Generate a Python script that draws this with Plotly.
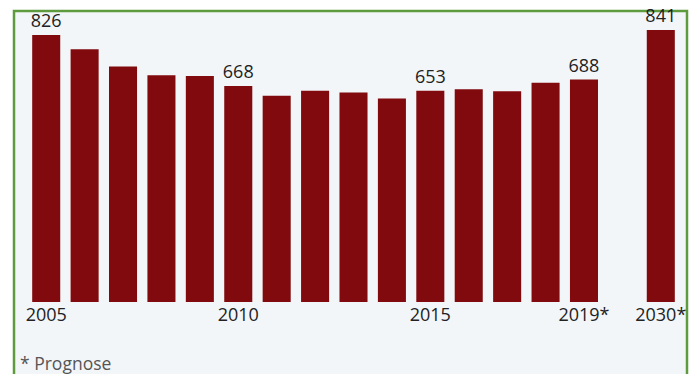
import plotly.graph_objects as go

categories = ["2005", "2006", "2007", "2008", "2009", "2010", "2011", "2012", "2013",
              "2014", "2015", "2016", "2017", "2018", "2019*", " ", "2030*"]
values = [826, 782, 728, 701, 699, 668, 638, 653, 648, 629, 653, 658, 652, 678, 688, None, 841]
shown_labels = ["2005", "2010", "2015", "2019*", "2030*"]
labelled_values = {"2005": 826, "2010": 668, "2015": 653, "2019*": 688, "2030*": 841}

W, H = 694, 374
ml, mr, mt, mb = 27, 14, 11, 72
pw, ph = W - ml - mr, H - mt - mb

def px_x(x):
    return (x - ml) / pw

def px_y(y):
    return (H - mb - y) / ph

texts = [str(labelled_values[c]) if c in labelled_values else "" for c in categories]
ticktext = [c if c in shown_labels else "" for c in categories]

fig = go.Figure()
fig.add_trace(go.Bar(
    x=categories, y=values,
    marker=dict(color="#800a0d", line=dict(width=0)),
    text=texts, textposition="outside", cliponaxis=False, constraintext="none",
    textfont=dict(size=18, color="#222222", family="Open Sans"),
    hoverinfo="skip",
))

fig.update_layout(
    width=W, height=H,
    margin=dict(l=ml, r=mr, t=mt, b=mb, autoexpand=False),
    paper_bgcolor="white",
    plot_bgcolor="rgba(0,0,0,0)",
    showlegend=False,
    bargap=0.27,
    font=dict(family="Open Sans", color="#222222"),
    xaxis=dict(
        type="category", categoryorder="array", categoryarray=categories,
        tickmode="array", tickvals=categories, ticktext=ticktext,
        tickfont=dict(size=18, color="#222222"),
        showgrid=False, zeroline=False, showline=False, ticks="",
        range=[-0.5, len(categories) - 0.5], automargin=False,
    ),
    yaxis=dict(range=[0, 900], visible=False, automargin=False),
    shapes=[dict(
        type="rect", xref="paper", yref="paper", layer="below",
        x0=px_x(14), x1=px_x(687), y0=px_y(385), y1=px_y(11),
        fillcolor="#f3f6f9", line=dict(color="#5e9a3e", width=2.5),
    )],
    annotations=[dict(
        text="* Prognose", xref="paper", yref="paper",
        x=px_x(18), y=px_y(363), xanchor="left", yanchor="middle",
        showarrow=False, font=dict(size=17.5, color="#555555", family="Open Sans"),
    )],
)

fig.write_html("out.html")
